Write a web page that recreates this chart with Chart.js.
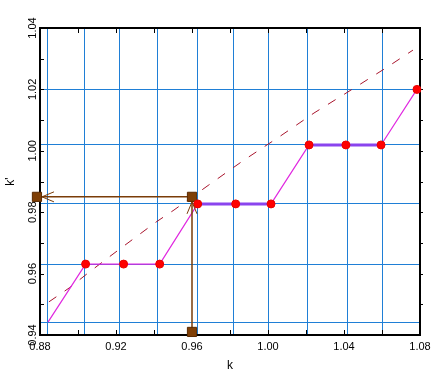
<!DOCTYPE html>
<html><head><meta charset="utf-8">
<script src="https://cdn.jsdelivr.net/npm/chart.js@4"></script>
<style>html,body{margin:0;padding:0;background:#fff}canvas{display:block}</style>
</head><body>
<canvas id="c" width="441" height="382"></canvas>
<script>
// ---- data ----
const xTickValues = [0.88, 0.92, 0.96, 1.00, 1.04, 1.08];
const yTickValues = [0.94, 0.96, 0.98, 1.00, 1.02, 1.04];
const xMinorStep = 0.02;
const yMinorStep = 0.01;

// blue reference lines
const gridK  = [0.8842, 0.9032, 0.9221, 0.9416, 0.9627, 0.9816, 1.0005, 1.0210, 1.0416, 1.0605];
const gridKp = [0.9442, 0.9631, 0.9827, 1.0019, 1.0200];

// staircase (thin magenta line)
const stairK  = [0.8842, 0.9040, 0.9240, 0.9430, 0.9630, 0.9830, 1.0016, 1.0216, 1.0410, 1.0595, 1.0784];
const stairKp = [0.9442, 0.9631, 0.9631, 0.9631, 0.9827, 0.9827, 0.9827, 1.0019, 1.0019, 1.0019, 1.0200];

// red dots
const dotK  = [0.9040, 0.9240, 0.9430, 0.9630, 0.9830, 1.0016, 1.0216, 1.0410, 1.0595, 1.0784];
const dotKp = [0.9631, 0.9631, 0.9631, 0.9827, 0.9827, 0.9827, 1.0019, 1.0019, 1.0019, 1.0200];

// thick purple flats (null = break)
const flatK  = [0.9630, 0.9830, 1.0016, null, 1.0216, 1.0410, 1.0595];
const flatKp = [0.9827, 0.9827, 0.9827, null, 1.0019, 1.0019, 1.0019];

// dashed curve
const dashK  = [0.8847, 0.8953, 0.9047, 0.9142, 0.9226, 0.9411, 0.9505, 0.9689, 0.9874, 1.0058, 1.0242, 1.0437, 1.0621, 1.0763];
const dashKp = [0.9508, 0.9553, 0.9599, 0.9644, 0.9683, 0.9768, 0.9807, 0.9889, 0.9970, 1.0045, 1.0123, 1.0198, 1.0270, 1.0328];

// brown guide path
const guideK  = [0.9600, 0.9600, 0.8784];
const guideKp = [0.9410, 0.9850, 0.9850];

const pts = (xs, ys) => xs.map((v, i) => ({x: v, y: ys[i]}));

const BLUE = '#1f7fd6';
const BROWN = '#7a3c08';
const FONT = 'Liberation Sans, Arial, sans-serif';

const framePlugin = {
  id: 'frame',
  beforeDatasetsDraw(chart) {
    const {ctx, chartArea: {left, right, top, bottom}, scales: {x, y}} = chart;
    ctx.save();
    ctx.strokeStyle = '#000';
    ctx.lineWidth = 1;
    ctx.beginPath();
    const nx = Math.round((x.max - x.min) / xMinorStep);
    for (let i = 1; i < nx; i++) {
      const px = Math.round(x.getPixelForValue(x.min + i * xMinorStep)) + 0.5;
      ctx.moveTo(px, bottom); ctx.lineTo(px, bottom - 5);
      ctx.moveTo(px, top); ctx.lineTo(px, top + 5);
    }
    const ny = Math.round((y.max - y.min) / yMinorStep);
    for (let i = 1; i < ny; i++) {
      const py = Math.round(y.getPixelForValue(y.min + i * yMinorStep)) + 0.5;
      ctx.moveTo(left, py); ctx.lineTo(left + 4, py);
      ctx.moveTo(right, py); ctx.lineTo(right + 3, py);
    }
    ctx.stroke();
    ctx.lineWidth = 2;
    ctx.strokeRect(left, top, right - left, bottom - top);
    ctx.restore();
  }
};

const arrowPlugin = {
  id: 'arrows',
  afterDatasetsDraw(chart) {
    const idx = chart.data.datasets.findIndex(d => d.label === 'guide');
    const meta = chart.getDatasetMeta(idx);
    const p = meta.data;
    const ctx = chart.ctx;
    ctx.save();
    ctx.strokeStyle = BROWN;
    ctx.lineWidth = 1;
    for (let i = 1; i < p.length; i++) {
      const dx = p[i].x - p[i - 1].x, dy = p[i].y - p[i - 1].y;
      const len = Math.hypot(dx, dy) || 1;
      const ux = dx / len, uy = dy / len;
      const tx = p[i].x - ux * 5, ty = p[i].y - uy * 5;
      const bx = tx - ux * 12, by = ty - uy * 12;
      ctx.beginPath();
      ctx.moveTo(tx, ty); ctx.lineTo(bx - uy * 5, by + ux * 5);
      ctx.moveTo(tx, ty); ctx.lineTo(bx + uy * 5, by - ux * 5);
      ctx.stroke();
    }
    ctx.restore();
  }
};

new Chart(document.getElementById('c'), {
  type: 'line',
  data: {
    datasets: [
      { label: 'dash', data: pts(dashK, dashKp), borderColor: '#a8142c', borderWidth: 1,
        borderDash: [9, 10], pointRadius: 0, fill: false, order: 6 },
      { label: 'stair', data: pts(stairK, stairKp), borderColor: '#e028e0', borderWidth: 1.2,
        pointRadius: 0, fill: false, order: 5 },
      { label: 'flat', data: pts(flatK, flatKp), borderColor: '#8a44ee', borderWidth: 3,
        pointRadius: 0, fill: false, spanGaps: false, order: 4 },
      { label: 'guide', data: pts(guideK, guideKp), borderColor: BROWN, borderWidth: 1.5,
        pointStyle: 'rect', pointRadius: 6.5, pointBackgroundColor: '#7f3f06',
        pointBorderColor: '#5a2a00', pointBorderWidth: 1, fill: false, clip: false, order: 2 },
      { label: 'dots', data: pts(dotK, dotKp), showLine: false, pointRadius: 4,
        pointBackgroundColor: '#ff0000', pointBorderColor: '#e80000', pointBorderWidth: 1,
        clip: false, order: 1 }
    ]
  },
  options: {
    responsive: false,
    animation: false,
    devicePixelRatio: 1,
    layout: { padding: { top: 28, right: 21, left: 0, bottom: 0 } },
    plugins: { legend: { display: false }, tooltip: { enabled: false } },
    elements: { line: { tension: 0 } },
    scales: {
      x: {
        type: 'linear', position: 'bottom', min: 0.88, max: 1.08,
        afterBuildTicks: s => { s.ticks = xTickValues.map(v => ({value: v})); },
        afterFit: s => { s.height = 47; },
        grid: { display: false, drawTicks: false }, border: { display: false },
        ticks: { color: '#000', font: { family: FONT, size: 11 }, padding: 5,
                 maxRotation: 0, autoSkip: false, callback: v => Number(v).toFixed(2) },
        title: { display: true, text: 'k', color: '#000', font: { family: FONT, size: 12 },
                 padding: { top: 0, bottom: 9 } }
      },
      y: {
        type: 'linear', position: 'left', min: 0.94, max: 1.04,
        afterBuildTicks: s => { s.ticks = yTickValues.map(v => ({value: v})); },
        afterFit: s => { s.width = 40; },
        grid: { display: false, drawTicks: false }, border: { display: false },
        ticks: { color: '#000', font: { family: FONT, size: 11 }, padding: -4,
                 minRotation: 90, maxRotation: 90, crossAlign: 'center', autoSkip: false,
                 callback: v => Number(v).toFixed(2) },
        title: { display: true, text: "k'", color: '#000', font: { family: FONT, size: 12 },
                 padding: { top: 3, bottom: 0 } }
      },
      x2: {
        type: 'linear', position: 'bottom', min: 0.88, max: 1.08,
        afterBuildTicks: s => { s.ticks = gridK.map(v => ({value: v})); },
        afterFit: s => { s.height = 0; },
        grid: { display: true, color: BLUE, lineWidth: 1, drawTicks: false },
        border: { display: false }, ticks: { display: false, autoSkip: false }
      },
      y2: {
        type: 'linear', position: 'left', min: 0.94, max: 1.04,
        afterBuildTicks: s => { s.ticks = gridKp.map(v => ({value: v})); },
        afterFit: s => { s.width = 0; },
        grid: { display: true, color: BLUE, lineWidth: 1, drawTicks: false },
        border: { display: false }, ticks: { display: false, autoSkip: false }
      }
    }
  },
  plugins: [framePlugin, arrowPlugin]
});
</script>
</body></html>
